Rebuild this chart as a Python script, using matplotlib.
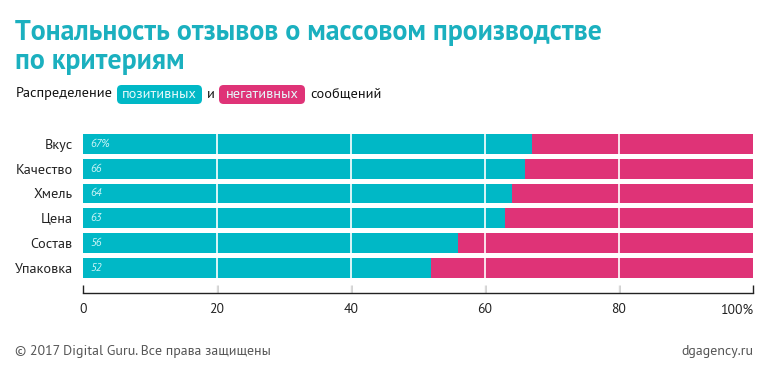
import matplotlib
matplotlib.use("Agg")
import matplotlib.pyplot as plt
from matplotlib import font_manager
from matplotlib.patches import FancyBboxPatch

available = {f.name for f in font_manager.fontManager.ttflist}
base = None
for cand in ["PT Sans", "Roboto Condensed", "Liberation Sans Narrow", "Open Sans Condensed", "Roboto"]:
    if cand in available:
        base = cand
        break
if base is None:
    base = "DejaVu Sans"
plt.rcParams['font.family'] = [base, 'DejaVu Sans']

categories = ["Вкус", "Качество", "Хмель", "Цена", "Состав", "Упаковка"]
positive = [67, 66, 64, 63, 56, 52]
negative = [100 - v for v in positive]
value_labels = ["67%", "66", "64", "63", "56", "52"]
xticks = [0, 20, 40, 60, 80, 100]
xtick_labels = ["0", "20", "40", "60", "80", "100%"]

TEAL = "#00B8C6"
PINK = "#DF3377"
TITLE = "#1BB0BF"

W, H = 773, 381
fig = plt.figure(figsize=(W / 100, H / 100), dpi=100)
fig.patch.set_facecolor("white")
renderer = fig.canvas.get_renderer()


def fit(t, target):
    w = t.get_window_extent(renderer=renderer).width
    t.set_fontsize(t.get_fontsize() * target / w)


ax = fig.add_axes([83 / W, 1 - 293 / H, 670 / W, 163 / H])
y = list(range(len(categories)))
ax.barh(y, positive, height=0.8, color=TEAL, zorder=1)
ax.barh(y, negative, left=positive, height=0.8, color=PINK, zorder=1)
for xv in [20, 40, 60, 80]:
    ax.axvline(xv, color="white", lw=1.2, zorder=2)
for yi, lab in zip(y, value_labels):
    ax.text(1.05, yi, lab, color="#CFF6F8", fontsize=8, style="italic",
            va="center", ha="left", zorder=3)

ax.set_xlim(0, 100)
ax.set_ylim(6.0, -0.55)
ax.set_yticks(y)
ax.set_yticklabels(categories, fontsize=10.3, color="#222222")
ax.tick_params(axis="y", length=0, pad=7.5)
ax.set_xticks(xticks)
ax.set_xticklabels(xtick_labels, fontsize=9.8, color="#222222")
ax.get_xticklabels()[-1].set_horizontalalignment("right")
ax.get_xticklabels()[-1].set_x(100)
ax.tick_params(axis="x", direction="in", length=6, width=1, color="#222222", pad=7.5)
for s in ["top", "right", "left"]:
    ax.spines[s].set_visible(False)
ax.spines["bottom"].set_color("#222222")
ax.spines["bottom"].set_linewidth(1)
# right-align last tick label to the tick
for lbl in ax.get_xticklabels():
    if lbl.get_text() == "100%":
        lbl.set_ha("right")

t1 = fig.text(15 / W, 1 - 40 / H, "Тональность отзывов о массовом производстве",
              fontsize=18, fontweight="bold", color=TITLE, ha="left", va="baseline")
fit(t1, 590)
fig.text(15 / W, 1 - 69 / H, "по критериям",
         fontsize=t1.get_fontsize(), fontweight="bold", color=TITLE, ha="left", va="baseline")

fs = 10.3
ly = 1 - 94 / H
fig.text(16 / W, ly, "Распределение", fontsize=fs, color="#111111", ha="left", va="center")
fig.text(207 / W, ly, "и", fontsize=fs, color="#111111", ha="left", va="center")
fig.text(310 / W, ly, "сообщений", fontsize=fs, color="#111111", ha="left", va="center")
for txt, col, x0, x1 in [("позитивных", TEAL, 117, 202), ("негативных", PINK, 219, 305)]:
    box = FancyBboxPatch((x0 / W, 85 / H * 0 + 1 - 104 / H), (x1 - x0) / W, 19 / H,
                         boxstyle="round,pad=0,rounding_size=0.006",
                         transform=fig.transFigure, fc=col, ec="none",
                         mutation_aspect=W / H)
    fig.patches.append(box)
    fig.text((x0 + x1) / 2 / W, ly, txt, fontsize=fs, color="#E6FAFC",
             ha="center", va="center")

fig.text(15 / W, 1 - 352 / H, "© 2017 Digital Guru. Все права защищены",
         fontsize=10, color="#555555", ha="left", va="center")
fig.text(753 / W, 1 - 352 / H, "dgagency.ru",
         fontsize=10, color="#555555", ha="right", va="center")

fig.savefig("out.png", dpi=100)
